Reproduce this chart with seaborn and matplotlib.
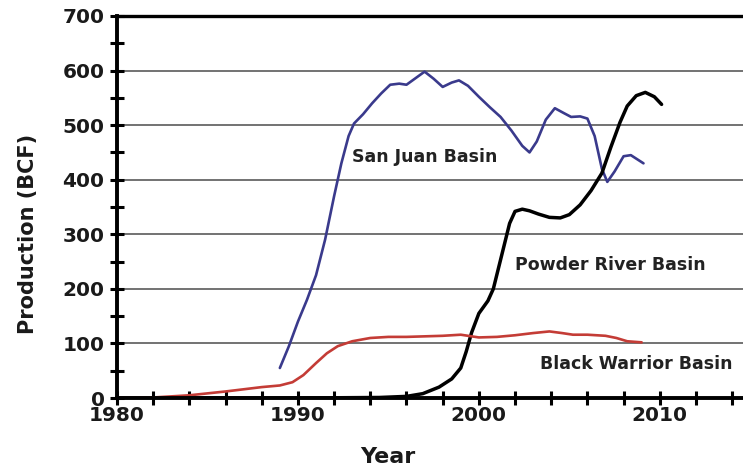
import pandas as pd
import matplotlib.pyplot as plt
import seaborn as sns
from matplotlib.ticker import MultipleLocator

# values
sj_year = [1989.0, 1989.5, 1990.0, 1990.5, 1991.0, 1991.5, 1992.0, 1992.4, 1992.8, 1993.1,
           1993.6, 1994.1, 1994.6, 1995.1, 1995.6, 1996.0, 1996.5, 1997.0, 1997.5, 1998.0,
           1998.5, 1998.9, 1999.4, 2000.0, 2000.6, 2001.2, 2001.8, 2002.4, 2002.8, 2003.2,
           2003.7, 2004.2, 2004.7, 2005.1, 2005.6, 2006.0, 2006.4, 2006.8, 2007.1, 2007.5,
           2008.0, 2008.4, 2009.1]
sj_prod = [55, 95, 140, 180, 225, 290, 370, 430, 480, 503,
           520, 540, 558, 574, 576, 574, 586, 598, 585, 570,
           578, 582, 572, 552, 533, 515, 490, 462, 450, 470,
           510, 531, 522, 515, 516, 512, 480, 420, 396, 415,
           443, 445, 430]

pr_year = [1980, 1990, 1994.5, 1996.0, 1996.9, 1997.8, 1998.5, 1999.0, 1999.3, 1999.6,
           2000.0, 2000.5, 2000.8, 2001.1, 2001.4, 2001.7, 2002.0, 2002.4, 2002.8, 2003.3,
           2003.9, 2004.5, 2005.0, 2005.6, 2006.2, 2006.8, 2007.3, 2007.8, 2008.2, 2008.7,
           2009.2, 2009.7, 2010.1]
pr_prod = [0, 0, 1, 3, 8, 20, 35, 55, 85, 120,
           155, 178, 200, 240, 280, 320, 342, 346, 343, 337,
           331, 330, 336, 354, 380, 412, 460, 505, 535, 554,
           560, 552, 538]

bw_year = [1980, 1982, 1984, 1986, 1988, 1989.0, 1989.7, 1990.3, 1991.0, 1991.6,
           1992.2, 1993.0, 1994.0, 1995.0, 1996.0, 1997.0, 1998.0, 1999.0, 2000.0,
           2001.0, 2002.0, 2003.0, 2003.9, 2004.6, 2005.2, 2006.0, 2007.0, 2007.6,
           2008.2, 2009.0]
bw_prod = [0, 1, 5, 12, 20, 23, 29, 42, 64, 82,
           95, 104, 110, 112, 112, 113, 114, 116, 111,
           112, 115, 119, 122, 119, 116, 116, 114, 110, 104, 102]

series = {
    "San Juan Basin": (sj_year, sj_prod),
    "Powder River Basin": (pr_year, pr_prod),
    "Black Warrior Basin": (bw_year, bw_prod),
}
colors = {"San Juan Basin": "#3a3a8c", "Powder River Basin": "black",
          "Black Warrior Basin": "#c43c36"}
widths = {"San Juan Basin": 1.9, "Powder River Basin": 2.5, "Black Warrior Basin": 1.9}

sns.set_style("white")
plt.rcParams["font.family"] = ["DejaVu Sans"]

fig = plt.figure(figsize=(7.43, 4.74), dpi=100)
ax = fig.add_axes([0.1575, 0.1603, 0.8425, 0.8060])

for y in range(100, 700, 100):
    ax.axhline(y, color="#5a5a5a", lw=1.2, zorder=0)
ax.axhline(700, color="black", lw=2.4, zorder=0, clip_on=False)

for name, (xs, ys) in series.items():
    df = pd.DataFrame({"Year": xs, "Production": ys})
    sns.lineplot(data=df, x="Year", y="Production", ax=ax, color=colors[name],
                 lw=widths[name], zorder=3)

ax.set_xlim(1980, 2014.6)
ax.set_ylim(0, 700)
ax.xaxis.set_major_locator(MultipleLocator(10))
ax.xaxis.set_minor_locator(MultipleLocator(2))
ax.yaxis.set_major_locator(MultipleLocator(100))
ax.yaxis.set_minor_locator(MultipleLocator(50))
ax.tick_params(which="both", bottom=True, left=True, direction="inout",
               length=10, width=2.2, color="black")
ax.tick_params(axis="x", which="major", labelsize=14.5, pad=1)
ax.tick_params(axis="y", which="major", labelsize=14.5, pad=4)
for lab in ax.get_xticklabels() + ax.get_yticklabels():
    lab.set_fontweight("bold")
    lab.set_color("#1a1a1a")

for side in ["top", "right"]:
    ax.spines[side].set_visible(False)
for side in ["left", "bottom"]:
    ax.spines[side].set_color("black")
    ax.spines[side].set_linewidth(2.8)
    ax.spines[side].set_zorder(4)

ax.set_xlabel("Year", fontsize=16, fontweight="bold", color="#1a1a1a")
ax.set_ylabel("Production (BCF)", fontsize=15, fontweight="bold", color="#1a1a1a")
ax.xaxis.set_label_coords(0.433, -0.154)
ax.xaxis.label.set_va("center")
ax.yaxis.set_label_coords(-0.143, 0.43)
ax.yaxis.label.set_va("center")

ax.text(1993.0, 441, "San Juan Basin", fontsize=12.5, fontweight="bold", va="center",
        color="#222222")
ax.text(2002.0, 244, "Powder River Basin", fontsize=12.5, fontweight="bold", va="center",
        color="#222222")
ax.text(2003.4, 62, "Black Warrior Basin", fontsize=12.5, fontweight="bold", va="center",
        color="#222222")

fig.savefig("out.png", dpi=100)
